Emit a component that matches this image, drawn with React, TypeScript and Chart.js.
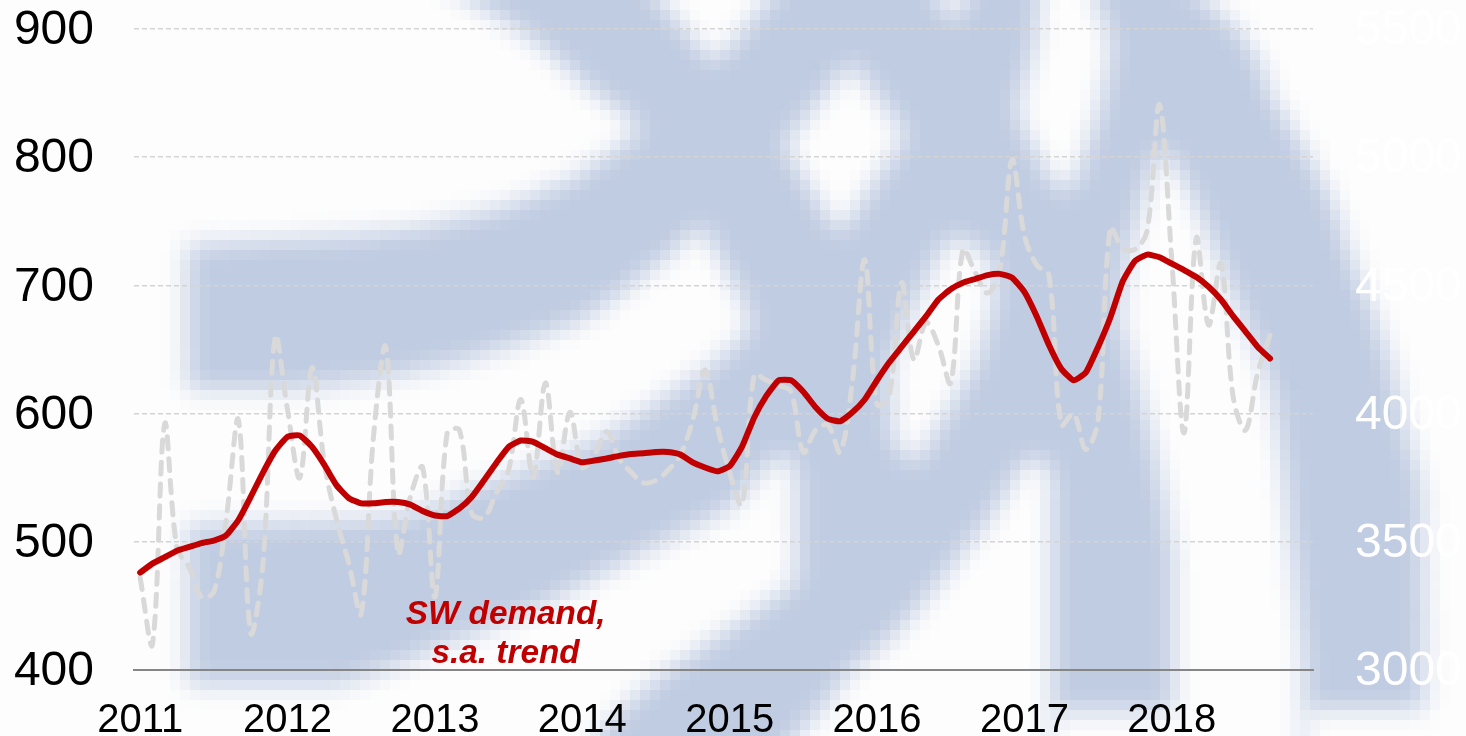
import React, { useEffect, useRef } from "react";
import { Chart, registerables } from "chart.js";

Chart.register(...registerables);

const years = ["2011", "2012", "2013", "2014", "2015", "2016", "2017", "2018"];
const months = ["01", "02", "03", "04", "05", "06", "07", "08", "09", "10", "11", "12"];
const categories = years.flatMap((y) => months.map((m) => `${y}-${m}`));

const swDemandTrend = [
  476, 483, 488, 493, 496, 499, 501, 505, 517, 535, 554, 571,
  582, 583, 574, 560, 544, 534, 530, 530, 531, 531, 529, 524,
  520.5, 520, 526, 535, 548, 561.5, 574, 579, 578, 573, 568, 565,
  562, 563.4, 565, 567, 568.5, 569, 570, 570, 568, 562, 558, 555,
  559, 574, 597, 614, 626, 626, 617, 605, 596, 594, 601, 611,
  626, 640, 652, 664, 676, 689, 697, 702, 705, 708, 709, 706,
  695, 676, 653.5, 635, 626, 632, 652, 675, 703, 719, 724, 722,
  717, 712, 706.5, 699, 689, 676, 664, 652, 643,
];

const swDemandRaw = [
  472, 420, 592, 495, 480, 457, 461, 517, 595, 429, 483, 660,
  603, 550, 636, 561, 517, 483, 444, 582, 652, 491, 535, 558,
  457, 585, 587, 522, 519, 538, 556, 611, 550, 624, 554, 601,
  558, 568, 586, 565, 554, 546, 548, 556, 568, 595, 634, 590,
  554, 529, 630, 626, 622, 617, 570, 587, 591, 570, 626, 720,
  607, 614, 702, 642, 671, 653, 624, 728, 710, 694, 712, 798,
  739, 716, 708, 591, 600, 572, 595, 745, 729, 728, 743, 841,
  720, 585, 737, 669, 717, 613, 587, 632, 661,
];

const leftTicks = { min: 400, max: 900, step: 100 };
const rightTicks = { min: 3000, max: 5500, step: 500 };
const annotationLines = ["SW demand,", "s.a. trend"];

// Background watermark: the blue sheet is cut by these pale regions.
// They run past the picture's edge so that the blur does not tint the edge.
const watermarkCutouts: number[][][] = [
  [[-200,-200],[360,-60],[468,0],[502,19],[543,47],[585,85],[622,112],[642,131],[615,150],[570,180],[502,207],[419,227],[348,236],[187,244],[187,390],[294,390],[377,380],[460,362],[522,343],[585,319],[626,291],[667,258],[703,226],[724,268],[745,305],[750,329],[712,366],[667,394],[626,422],[585,446],[522,469],[460,493],[419,512],[357,521],[187,526],[187,684],[340,684],[400,665],[446,645],[500,625],[558,597],[620,565],[688,530],[730,510],[760,475],[783,452],[796,470],[796,582],[750,615],[709,643],[667,671],[626,704],[597,736],[500,936],[-200,936]],
  [[600,-60],[660,0],[690,35],[713,62],[735,40],[768,0],[830,-70]],
  [[851,62],[906,136],[839,236],[784,146]],
  [[1046,-60],[1074,-60],[1112,47],[1098,113],[1073,188],[1055,188],[1016,113],[1035,47]],
  [[915,-50],[953,25],[990,-50]],
  [[954,236],[990,258],[995,300],[976,362],[941,423],[915,465],[893,441],[891,366],[913,310],[937,258]],
  [[1027,458],[1045,462],[1052,480],[1052,936],[620,936],[798,736],[830,700],[847,676],[895,634],[944,577],[993,516]],
  [[1162,146],[1188,188],[1208,235],[1228,282],[1247,329],[1272,390],[1283,470],[1293,563],[1303,657],[1303,800],[1050,800],[1050,712],[1174,712],[1174,560],[1165,500],[1150,430],[1135,370],[1120,320],[1128,258],[1149,178]],
  [[1140,-60],[1203,0],[1237,28],[1260,62],[1271,94],[1293,130],[1313,164],[1333,202],[1353,263],[1373,310],[1393,371],[1407,432],[1423,493],[1425,709],[1303,709],[1303,800],[1700,800],[1700,-200]],
];

const WIDTH = 1466;
const HEIGHT = 736;
const PALE = "#fdfdfd";
const BLUE = "#c0cce2";
const RED = "#c00000";
const FONT = '"Liberation Sans", Arial, sans-serif';

const watermarkPlugin = {
  id: "watermark",
  beforeDraw(chart: any) {
    const cell = 10;
    const low = document.createElement("canvas");
    low.width = Math.ceil(WIDTH / cell);
    low.height = Math.ceil(HEIGHT / cell);
    const l = low.getContext("2d")!;
    l.fillStyle = BLUE;
    l.fillRect(0, 0, low.width, low.height);
    l.filter = "blur(1px)";
    l.fillStyle = PALE;
    l.scale(1 / cell, 1 / cell);
    for (const poly of watermarkCutouts) {
      l.beginPath();
      poly.forEach(([x, y], i) => (i ? l.lineTo(x, y) : l.moveTo(x, y)));
      l.closePath();
      l.fill();
    }
    const ctx = chart.ctx;
    ctx.save();
    ctx.fillStyle = PALE;
    ctx.fillRect(0, 0, WIDTH, HEIGHT);
    ctx.imageSmoothingEnabled = false;
    ctx.drawImage(low, 0, 0, low.width * cell, low.height * cell);
    ctx.restore();
  },
};

const annotationPlugin = {
  id: "annotation",
  afterDraw(chart: any) {
    const ctx = chart.ctx;
    const x = chart.scales.x.getPixelForValue(30);
    ctx.save();
    ctx.fillStyle = RED;
    ctx.font = `italic bold 33.3px ${FONT}`;
    ctx.textAlign = "center";
    ctx.textBaseline = "middle";
    annotationLines.forEach((t, i) => ctx.fillText(t, x - 3, 615 + i * 39));
    ctx.restore();
  },
};

export default function App() {
  const ref = useRef<HTMLCanvasElement>(null);
  useEffect(() => {
    const chart = new Chart(ref.current!, {
      type: "line",
      data: {
        labels: categories,
        datasets: [
          {
            label: "SW demand, s.a. trend",
            data: swDemandTrend,
            borderColor: RED,
            borderWidth: 6,
            pointRadius: 0,
            tension: 0.15,
            borderCapStyle: "round",
            borderJoinStyle: "round",
            order: 1,
          },
          {
            label: "SW demand",
            data: swDemandRaw,
            borderColor: "#d9d9d9",
            borderWidth: 5,
            borderDash: [12, 10],
            borderCapStyle: "round",
            pointRadius: 0,
            tension: 0.35,
            order: 2,
          },
        ],
      },
      options: {
        responsive: false,
        animation: false,
        events: [],
        layout: { padding: { top: 29, left: 0, right: 0, bottom: 0 } },
        plugins: { legend: { display: false }, tooltip: { enabled: false } },
        scales: {
          x: {
            type: "category",
            offset: true,
            grid: { display: false },
            border: { display: true, color: "#868686", width: 2 },
            afterFit: (s: any) => {
              s.height = 66;
              s.paddingLeft = 0;
              s.paddingRight = 0;
            },
            ticks: {
              autoSkip: false,
              maxRotation: 0,
              minRotation: 0,
              padding: 19,
              color: "#000",
              font: { family: FONT, size: 40 },
              callback: (_v: any, i: number) => (i % 12 === 0 ? categories[i].slice(0, 4) : ""),
            },
          },
          y: {
            position: "left",
            min: leftTicks.min,
            max: leftTicks.max,
            afterFit: (s: any) => {
              s.width = 134;
              s.paddingTop = 0;
              s.paddingBottom = 0;
            },
            border: { display: false, dash: [5, 3] },
            grid: { color: "#d4d4d4", lineWidth: 1.5, drawTicks: false },
            ticks: {
              stepSize: leftTicks.step,
              padding: 40,
              labelOffset: 2,
              color: "#000",
              font: { family: FONT, size: 48 },
              callback: (v: any) => String(v),
            },
          },
          y2: {
            position: "right",
            min: rightTicks.min,
            max: rightTicks.max,
            afterFit: (s: any) => {
              s.width = 153;
              s.paddingTop = 0;
              s.paddingBottom = 0;
            },
            border: { display: false },
            grid: { display: false, drawTicks: false },
            ticks: {
              stepSize: rightTicks.step,
              padding: 42,
              labelOffset: 2,
              color: "#ffffff",
              font: { family: FONT, size: 48 },
              callback: (v: any) => String(v),
            },
          },
        },
      },
      plugins: [watermarkPlugin, annotationPlugin],
    } as any);
    return () => chart.destroy();
  }, []);
  return (
    <div style={{ position: "fixed", left: 0, top: 0, width: WIDTH, height: HEIGHT, overflow: "hidden" }}>
      <canvas ref={ref} width={WIDTH} height={HEIGHT} style={{ display: "block", width: WIDTH, height: HEIGHT }} />
    </div>
  );
}
